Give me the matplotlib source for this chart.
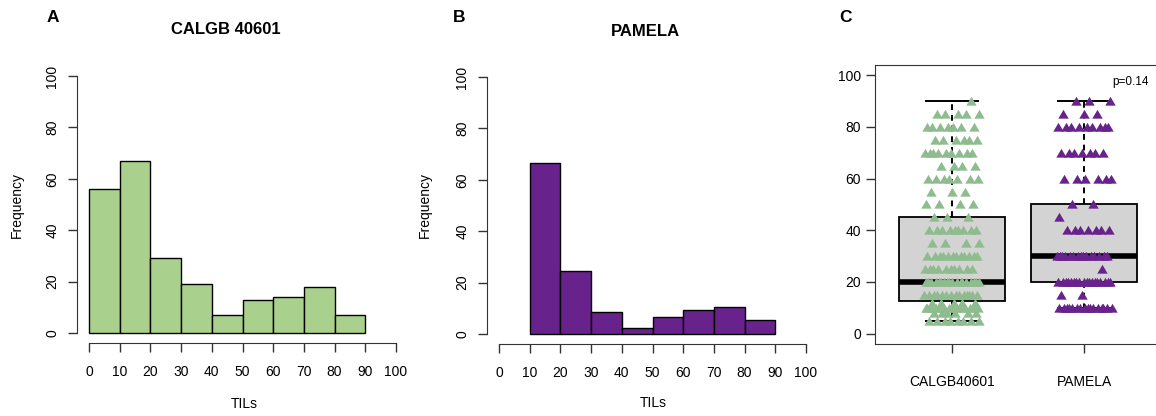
import numpy as np
import matplotlib.pyplot as plt

plt.rcParams['font.family'] = ['Liberation Sans', 'DejaVu Sans']

# --- data ---
# panel A / B histograms (TILs, frequency per 10-wide bin)
calgb_edges = [0, 10, 20, 30, 40, 50, 60, 70, 80, 90]
calgb_freq = [56, 67, 29, 19, 7, 13, 14, 18, 7]
pamela_edges = [10, 20, 30, 40, 50, 60, 70, 80, 90]
pamela_freq = [66.5, 24.5, 8.5, 2.5, 6.5, 9.5, 10.5, 5.5]

# panel C strip points: TIL level and number of triangles on it
calgb_levels = [5, 8, 10, 12, 15, 20, 25, 30, 35, 40, 45, 50, 55, 60, 65, 70, 75, 80, 85, 90]
calgb_counts = [8, 6, 14, 5, 14, 18, 10, 12, 4, 9, 3, 4, 3, 7, 4, 9, 6, 7, 5, 1]
pamela_levels = [10, 15, 20, 25, 30, 40, 45, 50, 60, 70, 80, 85, 90]
pamela_counts = [16, 2, 18, 1, 15, 7, 1, 2, 6, 7, 9, 3, 3]

# panel C box stats
box_names = ['CALGB40601', 'PAMELA']
box_q1 = [12.5, 20]
box_med = [20, 30]
box_q3 = [45, 50]
box_lo = [5, 10]
box_hi = [90, 90]
p_label = 'p=0.14'

green = '#AAD08E'
seagreen = '#8FBC8F'
purple = '#68228B'

W, H = 1156, 416
fig = plt.figure(figsize=(W / 100, H / 100), dpi=100)


def px(l, t, r, b):
    # pixel box -> figure fraction rect
    return [l / W, 1 - b / H, (r - l) / W, (b - t) / H]


def ftext(x, y, s, **kw):
    fig.text(x / W, 1 - y / H, s, ha='center', va='center', **kw)


def hist_panel(rect, edges, freq, color):
    ax = fig.add_axes(rect)
    ax.bar(edges[:-1], freq, width=np.diff(edges), align='edge',
           color=color, edgecolor='black', linewidth=1)
    ax.set_xlim(-4, 104)
    ax.set_ylim(-4, 104)
    ax.spines['top'].set_visible(False)
    ax.spines['right'].set_visible(False)
    ax.spines['left'].set_bounds(0, 100)
    ax.spines['bottom'].set_bounds(0, 100)
    for s in ['left', 'bottom']:
        ax.spines[s].set_color('#333333')
    ax.set_xticks(range(0, 101, 10))
    ax.set_yticks(range(0, 101, 20))
    ax.tick_params(direction='out', length=6.5, width=1, color='#333333', labelsize=10)
    ax.tick_params(axis='x', pad=9)
    ax.tick_params(axis='y', pad=6)
    for lab in ax.get_yticklabels():
        lab.set_rotation(90)
        lab.set_va('center')
    ax.patch.set_visible(False)
    return ax


hist_panel(px(76.7, 65.7, 408.3, 343.3), calgb_edges, calgb_freq, green)
hist_panel(px(486.7, 66.7, 818.3, 344.3), pamela_edges, pamela_freq, purple)

ftext(53, 17, 'A', fontsize=12.5, fontweight='bold')
ftext(226, 29, 'CALGB 40601', fontsize=12, fontweight='bold')
ftext(17, 205, 'Frequency', fontsize=10, rotation=90)
ftext(244, 404, 'TILs', fontsize=10)

ftext(459, 17, 'B', fontsize=12.5, fontweight='bold')
ftext(645, 31, 'PAMELA', fontsize=12, fontweight='bold')
ftext(425, 205, 'Frequency', fontsize=10, rotation=90)
ftext(653, 403, 'TILs', fontsize=10)

ftext(846, 17, 'C', fontsize=12.5, fontweight='bold')

# --- panel C: boxplot + jittered triangles ---
axc = fig.add_axes(px(875.4, 64.9, 1160.6, 344))
stats = []
for i in range(2):
    stats.append(dict(med=box_med[i], q1=box_q1[i], q3=box_q3[i],
                      whislo=box_lo[i], whishi=box_hi[i], fliers=[]))
axc.bxp(stats, positions=[1, 2], widths=0.81, capwidths=0.4, patch_artist=True,
        showfliers=False,
        boxprops=dict(facecolor='#D3D3D3', edgecolor='black', linewidth=1.3),
        medianprops=dict(color='black', linewidth=4, solid_capstyle='butt'),
        whiskerprops=dict(color='black', linewidth=1.4, linestyle=(0, (3, 2.5))),
        capprops=dict(color='black', linewidth=1.4))

tri = [(-1, -0.8), (1, -0.8), (0, 0.9)]
groups = [(calgb_levels, calgb_counts, seagreen), (pamela_levels, pamela_counts, purple)]
for g, (levels, counts, col) in enumerate(groups):
    yv = np.repeat(levels, counts)
    k = np.arange(len(yv))
    xv = g + 1 + ((k * 0.618034 + 0.37 + 0.21 * g) % 1.0 - 0.5) * 0.42
    axc.plot(xv, yv, linestyle='none', marker=tri, markersize=7.5,
             color=col, markeredgewidth=0, zorder=4)

axc.set_xlim(0.42, 2.58)
axc.set_ylim(-4, 104)
axc.set_xticks([1, 2])
axc.set_xticklabels(box_names)
axc.set_yticks(range(0, 101, 20))
axc.tick_params(direction='out', length=6.5, width=1, color='#333333', labelsize=10)
axc.tick_params(axis='x', pad=16)
axc.tick_params(axis='y', pad=4)
for s in axc.spines.values():
    s.set_color('#333333')
axc.text(2.35, 97.5, p_label, fontsize=8.5, ha='center', va='center')

fig.savefig('out.png', dpi=100)
